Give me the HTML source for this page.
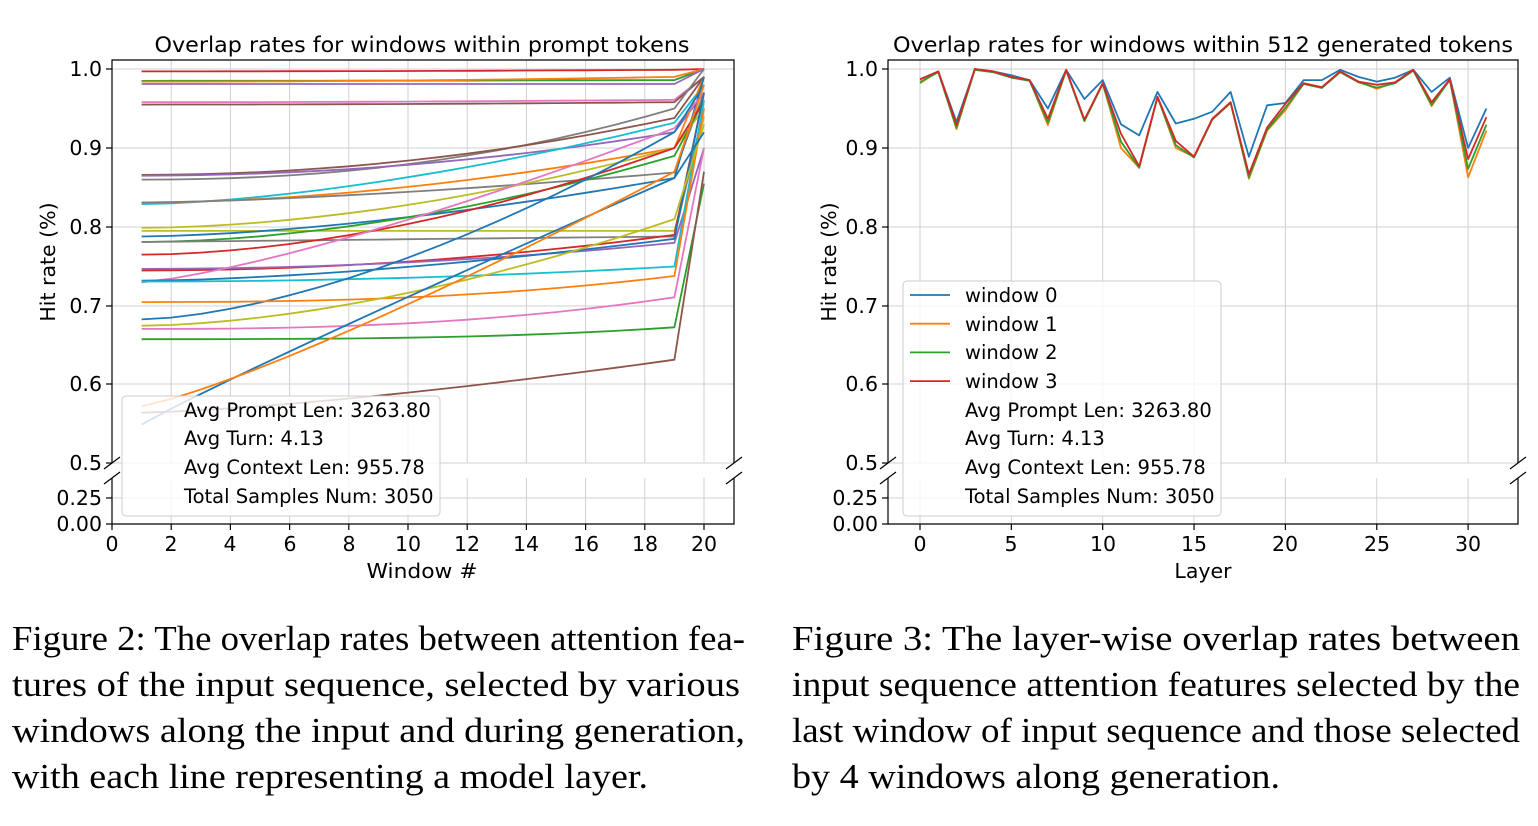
<!DOCTYPE html>
<html><head><meta charset="utf-8"><style>
html,body{margin:0;padding:0;background:#fff;}
svg{display:block;font-family:"DejaVu Sans","Liberation Sans",sans-serif;}
</style></head><body>
<svg id="s" width="1538" height="826" viewBox="0 0 1538 826" xmlns="http://www.w3.org/2000/svg">
<rect width="1538" height="826" fill="#fff"/>
<g id="grid" stroke="#d0d0d0" stroke-width="1"></g>
<g id="lines" fill="none" stroke-width="1.8" stroke-linejoin="round"></g>
<rect x="122" y="396" width="318" height="120" rx="4" fill="#fff" fill-opacity="0.8" stroke="#ccc"/>
<rect x="903" y="281" width="318" height="235" rx="4" fill="#fff" fill-opacity="0.8" stroke="#ccc"/>
<g id="leglines" stroke-width="1.8"></g>
<g stroke="#000" stroke-width="1.2" fill="none">
<path d="M112 463 V60 H734 V463"/>
<path d="M112 478 V524 H734 V478"/>
<path d="M888 463 V60 H1518 V463"/>
<path d="M888 478 V524 H1518 V478"/>
<path d="M104 469 L120 457 M104 484 L120 472 M726 469 L742 457 M726 484 L742 472"/>
<path d="M880 469 L896 457 M880 484 L896 472 M1510 469 L1526 457 M1510 484 L1526 472"/>
</g>
<g id="ticks" stroke="#000" stroke-width="1.2"></g>
<g font-size="20.5" fill="#000">
<text x="422" y="52" text-anchor="middle" font-size="21.5" textLength="535" lengthAdjust="spacingAndGlyphs">Overlap rates for windows within prompt tokens</text>
<text x="1203" y="52" text-anchor="middle" font-size="21.5" textLength="620" lengthAdjust="spacingAndGlyphs">Overlap rates for windows within 512 generated tokens</text>
<g text-anchor="end">
<text x="102" y="76">1.0</text><text x="102" y="155">0.9</text><text x="102" y="234">0.8</text><text x="102" y="313">0.7</text><text x="102" y="391">0.6</text><text x="102" y="470">0.5</text><text x="102" y="505">0.25</text><text x="102" y="531">0.00</text>
<text x="878" y="76">1.0</text><text x="878" y="155">0.9</text><text x="878" y="234">0.8</text><text x="878" y="313">0.7</text><text x="878" y="391">0.6</text><text x="878" y="470">0.5</text><text x="878" y="505">0.25</text><text x="878" y="531">0.00</text>
</g>
<g text-anchor="middle">
<text x="112" y="551">0</text><text x="171" y="551">2</text><text x="230" y="551">4</text><text x="290" y="551">6</text><text x="349" y="551">8</text><text x="408" y="551">10</text><text x="467" y="551">12</text><text x="526" y="551">14</text><text x="586" y="551">16</text><text x="645" y="551">18</text><text x="704" y="551">20</text>
<text x="920" y="551">0</text><text x="1011" y="551">5</text><text x="1103" y="551">10</text><text x="1194" y="551">15</text><text x="1285" y="551">20</text><text x="1377" y="551">25</text><text x="1468" y="551">30</text>
<text x="422" y="578" textLength="111" lengthAdjust="spacingAndGlyphs">Window #</text><text x="1203" y="578">Layer</text>
<text transform="translate(55,262) rotate(-90)">Hit rate (%)</text>
<text transform="translate(836,262) rotate(-90)">Hit rate (%)</text>
</g>
<g font-size="19.5">
<text x="184" y="417">Avg Prompt Len: 3263.80</text>
<text x="184" y="445">Avg Turn: 4.13</text>
<text x="184" y="474">Avg Context Len: 955.78</text>
<text x="184" y="503">Total Samples Num: 3050</text>
<text x="965" y="302">window 0</text>
<text x="965" y="331">window 1</text>
<text x="965" y="359">window 2</text>
<text x="965" y="388">window 3</text>
<text x="965" y="417">Avg Prompt Len: 3263.80</text>
<text x="965" y="445">Avg Turn: 4.13</text>
<text x="965" y="474">Avg Context Len: 955.78</text>
<text x="965" y="503">Total Samples Num: 3050</text>
</g>
</g>
<g font-family="'Liberation Serif','Times New Roman',serif" font-size="35" fill="#000">
<text x="12" y="650" textLength="733" lengthAdjust="spacingAndGlyphs">Figure 2: The overlap rates between attention fea-</text>
<text x="12" y="696" textLength="728" lengthAdjust="spacingAndGlyphs">tures of the input sequence, selected by various</text>
<text x="12" y="742" textLength="733" lengthAdjust="spacingAndGlyphs">windows along the input and during generation,</text>
<text x="12" y="788" textLength="636" lengthAdjust="spacingAndGlyphs">with each line representing a model layer.</text>
<text x="792" y="650" textLength="728" lengthAdjust="spacingAndGlyphs">Figure 3: The layer-wise overlap rates between</text>
<text x="792" y="696" textLength="728" lengthAdjust="spacingAndGlyphs">input sequence attention features selected by the</text>
<text x="792" y="742" textLength="728" lengthAdjust="spacingAndGlyphs">last window of input sequence and those selected</text>
<text x="792" y="788" textLength="488" lengthAdjust="spacingAndGlyphs">by 4 windows along generation.</text>
</g>
</svg>
<script>
(function(){
var NS="http://www.w3.org/2000/svg";
function el(p,t,a){var e=document.createElementNS(NS,t);for(var k in a)e.setAttribute(k,a[k]);p.appendChild(e);return e;}
var g=document.getElementById('grid'),L=document.getElementById('lines'),T=document.getElementById('ticks'),LG=document.getElementById('leglines');
function Y(v){return 69+(1-v)*790;}
var yt=[69,148,227,306,384,463];
yt.forEach(function(y){el(g,'line',{x1:112,x2:734,y1:y,y2:y});el(g,'line',{x1:888,x2:1518,y1:y,y2:y});
 el(T,'line',{x1:106,x2:112,y1:y,y2:y});el(T,'line',{x1:882,x2:888,y1:y,y2:y});});
[498,524].forEach(function(y){el(g,'line',{x1:112,x2:734,y1:y,y2:y});el(g,'line',{x1:888,x2:1518,y1:y,y2:y});
 el(T,'line',{x1:106,x2:112,y1:y,y2:y});el(T,'line',{x1:882,x2:888,y1:y,y2:y});});
for(var i=0;i<=20;i+=2){var x=112+i*29.6;el(g,'line',{x1:x,x2:x,y1:60,y2:463});el(g,'line',{x1:x,x2:x,y1:478,y2:524});el(T,'line',{x1:x,x2:x,y1:524,y2:530});}
for(var i=0;i<=30;i+=5){var x=920+i*18.27;el(g,'line',{x1:x,x2:x,y1:60,y2:463});el(g,'line',{x1:x,x2:x,y1:478,y2:524});el(T,'line',{x1:x,x2:x,y1:524,y2:530});}
var C=['#1f77b4','#ff7f0e','#2ca02c','#d62728'];
var S=[['#d62728',.997,.999,1,2],['#2ca02c',.985,.986,1,2],['#ff7f0e',.984,.99,1,2],['#9467bd',.981,.981,1,2],
['#e377c2',.958,.961,.99,2],['#8c564b',.955,.958,.99,2],['#7f7f7f',.86,.95,1,2.2],['#8c564b',.866,.938,.99,2],
['#9467bd',.865,.92,.97,2],['#17becf',.829,.932,.98,1.6],['#ff7f0e',.831,.9,.99,1.8],['#7f7f7f',.831,.869,.97,1.5],
['#bcbd22',.799,.9,.95,1.8],['#bcbd22',.795,.795,.94,1],['#1f77b4',.788,.862,.99,1.6],['#2ca02c',.781,.89,.96,1.8],
['#7f7f7f',.781,.788,.95,1],['#d62728',.765,.9,.96,1.8],['#d62728',.745,.79,.97,2],['#9467bd',.747,.78,.9,2],
['#e377c2',.73,.925,.97,1.3],['#1f77b4',.732,.785,.97,1.6],['#17becf',.731,.75,.96,2],['#1f77b4',.683,.92,.98,1.6],
['#ff7f0e',.705,.738,.95,2.5],['#bcbd22',.675,.81,.93,1.7],['#e377c2',.671,.711,.9,2.5],['#2ca02c',.658,.673,.855,3],
['#1f77b4',.55,.862,.92,0.95],['#ff7f0e',.573,.87,.98,1.2],['#8c564b',.565,.632,.87,1.4]];
S.forEach(function(s){var pts=[];for(var x=1;x<=19;x++){var t=(x-1)/18;var v=s[1]+(s[2]-s[1])*Math.pow(t,s[4]);pts.push((112+x*29.6).toFixed(1)+','+Y(v).toFixed(1));}
 pts.push((112+20*29.6)+','+Y(s[3]).toFixed(1));el(L,'polyline',{points:pts.join(' '),stroke:s[0]});});
var B=[.987,.997,.933,1,.997,.992,.986,.95,.999,.962,.986,.93,.916,.971,.931,.937,.946,.971,.889,.954,.957,.986,.986,.999,.99,.984,.989,.999,.971,.989,.9,.95];
var R=[.987,.997,.929,1,.997,.99,.986,.937,.999,.936,.982,.918,.877,.965,.909,.889,.937,.958,.867,.926,.956,.982,.977,.997,.984,.98,.983,.999,.958,.987,.886,.939];
var O=R.slice();var od={0:.982,2:.924,7:.929,9:.934,11:.9,12:.875,14:.9,18:.861,19:.922,20:.948,25:.975,28:.953,30:.863,31:.922};for(var k in od)O[k]=od[k];
var G=R.map(function(v,i){return (v+O[i])/2-0.001;});
[[B,C[0]],[O,C[1]],[G,C[2]],[R,C[3]]].forEach(function(p,j){var pts=p[0].map(function(v,i){return (920+i*18.27).toFixed(1)+','+Y(v).toFixed(1);});
 el(L,'polyline',{points:pts.join(' '),stroke:p[1]});
 var ly=295+j*28.7;el(LG,'line',{x1:910,x2:950,y1:ly,y2:ly,stroke:p[1]});});
})();
</script>
</body></html>
